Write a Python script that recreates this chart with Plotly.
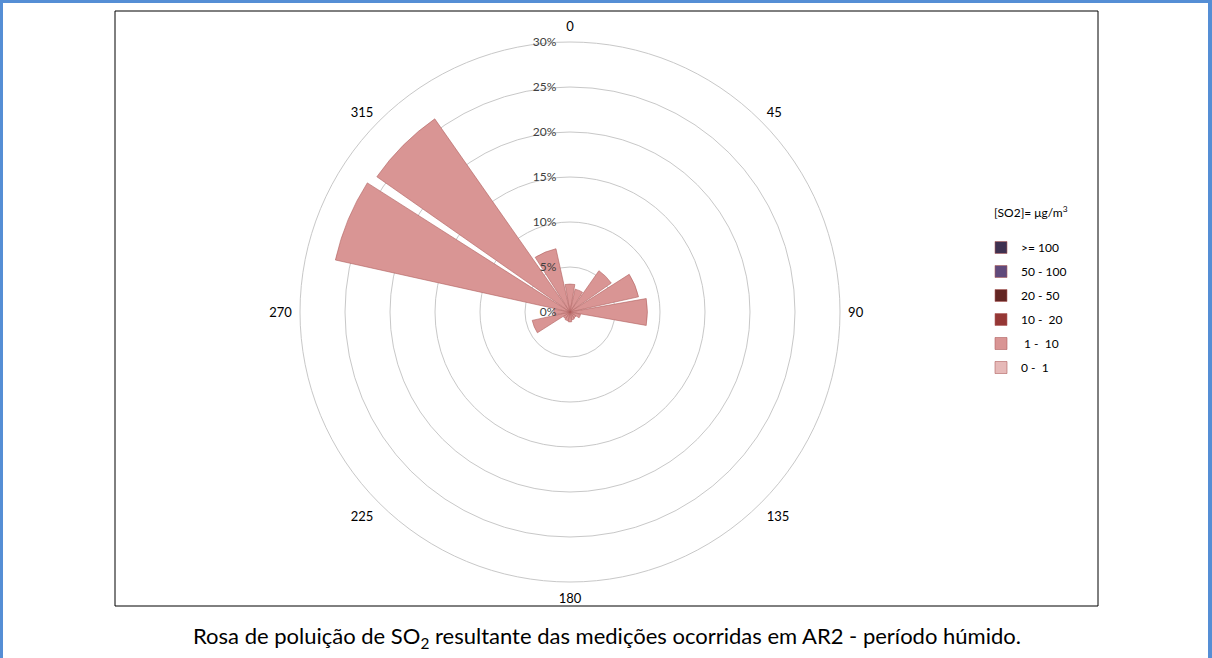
import plotly.graph_objects as go

# Wind direction sectors (degrees, clockwise from north)
directions = [0, 22.5, 45, 67.5, 90, 112.5, 135, 157.5, 180, 202.5,
              225, 247.5, 270, 292.5, 315, 337.5]

# Frequency (%) of each SO2 concentration class per sector
freq_0_1 = [0, 0, 0, 0, 0, 0, 0, 0, 0, 0, 0, 0, 0, 0, 0, 0]
freq_1_10 = [3.1, 2.6, 5.6, 7.8, 8.6, 1.2, 0.8, 0.9, 1.1, 1.0,
             0.9, 4.3, 1.8, 26.7, 26.2, 7.2]
freq_10_20 = [0, 0, 0, 0, 0, 0, 0, 0, 0, 0, 0, 0, 0, 0, 0, 0]
freq_20_50 = [0, 0, 0, 0, 0, 0, 0, 0, 0, 0, 0, 0, 0, 0, 0, 0]
freq_50_100 = [0, 0, 0, 0, 0, 0, 0, 0, 0, 0, 0, 0, 0, 0, 0, 0]
freq_100 = [0, 0, 0, 0, 0, 0, 0, 0, 0, 0, 0, 0, 0, 0, 0, 0]

class_labels = ["0 -  1", " 1 -  10", "10 -  20", "20 - 50", "50 - 100", ">= 100"]
class_colors = ["#E6B9B8", "#D99594", "#953735", "#632523", "#604A7B", "#3F3151"]
class_values = [freq_0_1, freq_1_10, freq_10_20, freq_20_50, freq_50_100, freq_100]

angle_ticks = [0, 45, 90, 135, 180, 225, 270, 315]
radial_ticks = [0, 5, 10, 15, 20, 25, 30]

W, H = 1212, 658
FONT = "Lato, 'Open Sans', sans-serif"

fig = go.Figure()
n = len(class_labels)
for i, (label, color, vals) in enumerate(zip(class_labels, class_colors, class_values)):
    fig.add_trace(go.Barpolar(
        r=vals,
        theta=directions,
        width=20,
        name=label,
        legendgroup=f"g{i}",
        legendrank=n - i,  # highest class listed first
        marker=dict(color=color, line=dict(color="#B0605E", width=0.6)),
    ))

# polar area: centre at (570, 312) px, 30% ring radius 270 px
cx, cy, R = 570, 312, 270
fig.update_layout(
    width=W, height=H,
    margin=dict(l=0, r=0, t=0, b=0),
    paper_bgcolor="white",
    plot_bgcolor="white",
    font=dict(family=FONT, size=12, color="#000000"),
    polar=dict(
        domain=dict(x=[(cx - R) / W, (cx + R) / W],
                    y=[(H - cy - R) / H, (H - cy + R) / H]),
        bgcolor="white",
        barmode="stack",
        radialaxis=dict(
            range=[0, 30],
            tickvals=radial_ticks,
            ticktext=[f"{v}%" for v in radial_ticks],
            angle=90,
            tickangle=90,
            side="counterclockwise",
            showline=False,
            ticks="outside",
            ticklen=9,
            tickcolor="rgba(0,0,0,0)",
            gridcolor="#C8C8C8",
            gridwidth=1,
            tickfont=dict(family=FONT, size=12, color="#404040"),
        ),
        angularaxis=dict(
            rotation=90,
            direction="clockwise",
            tickvals=angle_ticks,
            ticktext=[str(a) for a in angle_ticks],
            showgrid=False,
            showline=True,
            linecolor="#C8C8C8",
            linewidth=1,
            ticks="outside",
            ticklen=5,
            tickcolor="rgba(0,0,0,0)",
            tickfont=dict(family=FONT, size=13, color="#000000"),
        ),
    ),
    legend=dict(
        traceorder="grouped",
        tracegroupgap=5,
        x=981 / W, y=1 - 233 / H,
        xanchor="left", yanchor="top",
        font=dict(family=FONT, size=12),
        bgcolor="rgba(0,0,0,0)",
        itemwidth=30,
    ),
    showlegend=True,
)

# legend heading
fig.add_annotation(
    text="[SO2]= μg/m<sup>3</sup>",
    xref="paper", yref="paper", x=1031 / W, y=1 - 212 / H,
    xanchor="center", yanchor="middle", showarrow=False,
    font=dict(family=FONT, size=12, color="#000000"),
)

# chart frame
fig.add_shape(type="rect", xref="paper", yref="paper",
              x0=115 / W, x1=1098 / W, y0=1 - 606 / H, y1=1 - 11 / H,
              line=dict(color="#000000", width=1), fillcolor="rgba(0,0,0,0)", layer="below")

# blue page border (top, left, right)
border = "#558ED5"
fig.add_shape(type="rect", xref="paper", yref="paper", x0=0, x1=1, y0=1 - 3 / H, y1=1,
              line=dict(width=0), fillcolor=border)
fig.add_shape(type="rect", xref="paper", yref="paper", x0=0, x1=3 / W, y0=0, y1=1,
              line=dict(width=0), fillcolor=border)
fig.add_shape(type="rect", xref="paper", yref="paper", x0=1 - 4 / W, x1=1, y0=0, y1=1,
              line=dict(width=0), fillcolor=border)

# caption
fig.add_annotation(
    text="Rosa de poluição de SO<sub>2</sub> resultante das medições ocorridas em AR2 - período húmido.",
    xref="paper", yref="paper", x=607 / W, y=1 - 637 / H,
    xanchor="center", yanchor="middle", showarrow=False,
    font=dict(family=FONT, size=22, color="#000000"),
)

fig.write_html("out.html")
